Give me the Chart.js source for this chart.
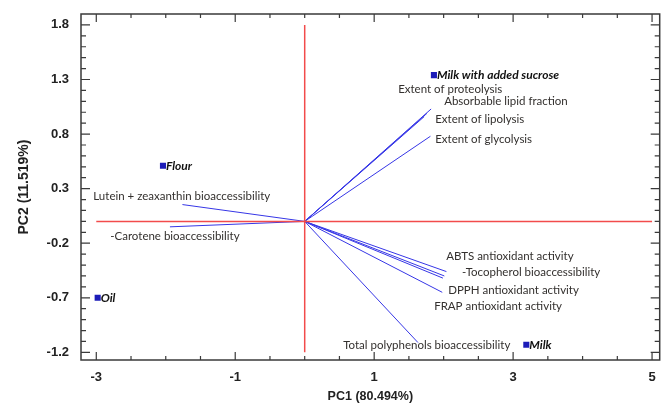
<!DOCTYPE html>
<html>
<head>
<meta charset="utf-8">
<script src="https://cdn.jsdelivr.net/npm/chart.js@4.4.1/dist/chart.umd.min.js"></script>
<style>
  html, body { margin: 0; background: #fff; }
  #wrap { width: 664px; height: 407px; }
</style>
</head>
<body>
<div id="wrap"><canvas id="biplot"></canvas></div>
<script>
// sample scores
const sampleNames = ["Milk with added sucrose", "Flour", "Oil", "Milk"];
const samplePC1 = [1.86, -2.04, -2.98, 3.19];
const samplePC2 = [1.34, 0.51, -0.70, -1.13];

// variable loadings (vectors from origin)
const variableNames = [
  "Extent of proteolysis",
  "Absorbable lipid fraction",
  "Extent of lipolysis",
  "Extent of glycolysis",
  "Lutein + zeaxanthin bioaccessibility",
  "-Carotene bioaccessibility",
  "ABTS antioxidant activity",
  "-Tocopherol bioaccessibility",
  "DPPH antioxidant activity",
  "FRAP antioxidant activity",
  "Total polyphenols bioaccessibility",
];
const loadPC1 = [1.82, 1.76, 1.72, 1.81, -1.76, -1.94, 2.04, 2.01, 1.99, 1.98, 1.63];
const loadPC2 = [1.03, 0.99, 0.96, 0.78, 0.154, -0.05, -0.46, -0.50, -0.52, -0.65, -1.11];

// where each variable's text sits (left edge, middle), in plot units
const labelPC1 = [1.345, 2.007, 1.878, 1.878, -3.043, -2.799, 2.036, 2.266, 2.065, 1.863, 0.554];
const labelPC2 = [1.206, 1.096, 0.931, 0.748, 0.227, -0.139, -0.322, -0.469, -0.634, -0.780, -1.133];

// axis ticks
const xTicks = [-3, -1, 1, 3, 5];
const yTicks = [-1.2, -0.7, -0.2, 0.3, 0.8, 1.3, 1.8];

const frameColor = "#3a3a3a";

const frameTicks = {
  id: "frameTicks",
  afterDatasetsDraw(chart) {
    const { ctx, chartArea: a, scales: { x, y } } = chart;
    ctx.save();
    ctx.strokeStyle = frameColor;
    ctx.lineWidth = 1.5;
    ctx.strokeRect(a.left, a.top, a.right - a.left, a.bottom - a.top);
    ctx.lineWidth = 1.2;
    ctx.beginPath();
    for (let i = 0; i <= 16; i++) {
      const v = -3 + i * 0.5;
      const px = x.getPixelForValue(v);
      const len = i % 4 === 0 ? 8 : 4;
      ctx.moveTo(px, a.bottom); ctx.lineTo(px, a.bottom - len);
      ctx.moveTo(px, a.top); ctx.lineTo(px, a.top + len);
    }
    for (let i = 0; i <= 30; i++) {
      const v = -1.2 + i * 0.1;
      const py = y.getPixelForValue(v);
      const len = i % 5 === 0 ? 9 : 5;
      ctx.moveTo(a.left, py); ctx.lineTo(a.left + len, py);
      ctx.moveTo(a.right, py); ctx.lineTo(a.right - len, py);
    }
    ctx.stroke();
    ctx.restore();
  },
};

const biplotLabels = {
  id: "biplotLabels",
  afterDatasetsDraw(chart) {
    const { ctx, scales: { x, y } } = chart;
    ctx.save();
    ctx.textAlign = "left";
    ctx.textBaseline = "middle";
    ctx.fillStyle = "#33302e";
    ctx.font = "11.5px Lato";
    variableNames.forEach((name, i) => {
      ctx.fillText(name, x.getPixelForValue(labelPC1[i]), y.getPixelForValue(labelPC2[i]));
    });
    ctx.fillStyle = "#111";
    ctx.font = "italic bold 12px Lato";
    sampleNames.forEach((name, i) => {
      ctx.fillText(name, x.getPixelForValue(samplePC1[i]) + 3, y.getPixelForValue(samplePC2[i]));
    });
    ctx.restore();
  },
};

const refLine = (pts) => ({
  data: pts,
  showLine: true,
  borderColor: "#f24b4b",
  borderWidth: 1.5,
  pointRadius: 0,
});

const vectorSets = variableNames.map((name, i) => ({
  label: name,
  data: [{ x: 0, y: 0 }, { x: loadPC1[i], y: loadPC2[i] }],
  showLine: true,
  borderColor: "#3636e6",
  borderWidth: 1,
  pointRadius: 0,
}));

const tickFont = { family: "Liberation Sans", size: 13, weight: "bold" };

new Chart(document.getElementById("biplot"), {
  type: "scatter",
  data: {
    datasets: [
      refLine([{ x: 0, y: -1.2 }, { x: 0, y: 1.8 }]),
      refLine([{ x: -3, y: 0 }, { x: 5, y: 0 }]),
      ...vectorSets,
      {
        label: "Samples",
        data: sampleNames.map((n, i) => ({ x: samplePC1[i], y: samplePC2[i] })),
        pointStyle: "rect",
        pointRadius: 4.3,
        backgroundColor: "#1c1cb8",
        borderColor: "#1c1cb8",
        borderWidth: 0,
      },
    ],
  },
  options: {
    responsive: true,
    maintainAspectRatio: false,
    animation: false,
    layout: { padding: { top: 14, right: 4, left: 0, bottom: 0 } },
    plugins: { legend: { display: false }, tooltip: { enabled: false } },
    scales: {
      x: {
        type: "linear",
        min: -3.22,
        max: 5.11,
        afterBuildTicks(scale) {
          scale.ticks = xTicks.map((v) => ({ value: v }));
        },
        afterFit(scale) {
          scale.height = 47;
          scale.paddingLeft = 0;
          scale.paddingRight = 0;
        },
        grid: { display: false, drawTicks: false },
        border: { display: false },
        ticks: {
          padding: 10,
          color: "#222",
          font: tickFont,
          callback: (v) => String(v),
        },
        title: {
          display: true,
          text: "PC1 (80.494%)",
          color: "#222",
          font: { family: "Liberation Sans", size: 12.5, weight: "bold" },
          padding: { top: 0, bottom: 3 },
        },
      },
      y: {
        type: "linear",
        min: -1.27,
        max: 1.9,
        afterBuildTicks(scale) {
          scale.ticks = yTicks.map((v) => ({ value: v }));
        },
        afterFit(scale) {
          scale.width = 81;
          scale.paddingTop = 0;
          scale.paddingBottom = 0;
        },
        grid: { display: false, drawTicks: false },
        border: { display: false },
        ticks: {
          padding: 12,
          color: "#222",
          font: tickFont,
          callback: (v) => v.toFixed(1),
        },
        title: {
          display: true,
          text: "PC2 (11.519%)",
          color: "#222",
          font: { family: "Liberation Sans", size: 14, weight: "bold" },
          padding: { top: 16, bottom: 0 },
        },
      },
    },
  },
  plugins: [frameTicks, biplotLabels],
});
</script>
</body>
</html>
